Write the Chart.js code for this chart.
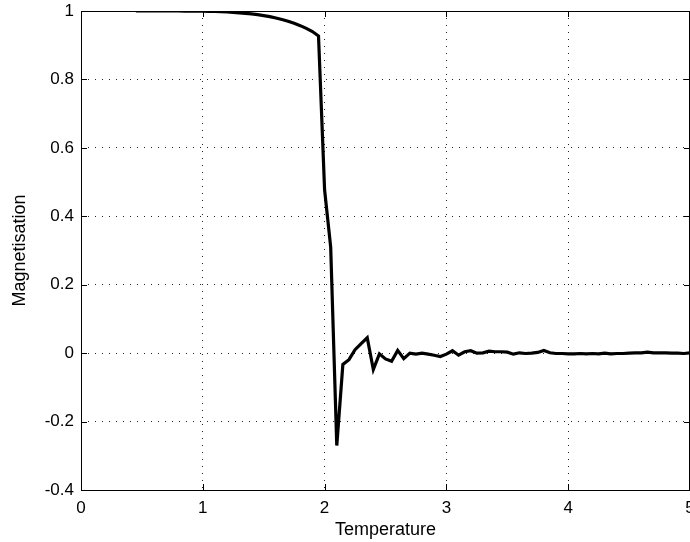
<!DOCTYPE html>
<html>
<head>
<meta charset="utf-8">
<script src="https://cdn.jsdelivr.net/npm/chart.js@4.4.1/dist/chart.umd.min.js"></script>
<style>
  html, body { margin: 0; padding: 0; background: #fff; }
  #wrap { position: relative; width: 690px; height: 542px; }
</style>
</head>
<body>
<div id="wrap"><canvas id="c"></canvas></div>
<script>
// ---- data ----
const temperature = [
  0.45, 0.50, 0.55, 0.60, 0.65, 0.70, 0.75, 0.80, 0.85, 0.90, 0.95,
  1.00, 1.05, 1.10, 1.15, 1.20, 1.25, 1.30, 1.35, 1.40, 1.45,
  1.50, 1.55, 1.60, 1.65, 1.70, 1.75, 1.80, 1.85, 1.90, 1.95,
  2.00, 2.05, 2.10, 2.15, 2.20, 2.25, 2.30, 2.35, 2.40, 2.45,
  2.50, 2.55, 2.60, 2.65, 2.70, 2.75, 2.80, 2.85, 2.90, 2.95,
  3.00, 3.05, 3.10, 3.15, 3.20, 3.25, 3.30, 3.35, 3.40, 3.45,
  3.50, 3.55, 3.60, 3.65, 3.70, 3.75, 3.80, 3.85, 3.90, 3.95,
  4.00, 4.05, 4.10, 4.15, 4.20, 4.25, 4.30, 4.35, 4.40, 4.45,
  4.50, 4.55, 4.60, 4.65, 4.70, 4.75, 4.80, 4.85, 4.90, 4.95,
  5.00
];
const magnetisation = [
  1.0000, 1.0000, 1.0000, 1.0000, 1.0000, 1.0000, 1.0000, 1.0000, 0.9999, 0.9998, 0.9996,
  0.9993, 0.9990, 0.9985, 0.9978, 0.9971, 0.9960, 0.9948, 0.9933, 0.9915, 0.9892,
  0.9866, 0.9834, 0.9796, 0.9751, 0.9700, 0.9640, 0.9572, 0.9492, 0.9400, 0.9270,
  0.477, 0.310, -0.270, -0.033, -0.019, 0.010, 0.028, 0.045, -0.048, -0.002,
  -0.017, -0.024, 0.008, -0.016, 0.000, -0.003, 0.000, -0.003, -0.006, -0.010,
  -0.003, 0.007, -0.006, 0.004, 0.007, 0.000, 0.001, 0.006, 0.004, 0.004,
  0.003, -0.003, 0.001, -0.001, 0.000, 0.002, 0.008, 0.001, -0.001, -0.001,
  -0.002, -0.002, -0.001, -0.002, -0.001, -0.002, 0.000, -0.002, -0.001, -0.001,
  0.000, 0.001, 0.001, 0.003, 0.001, 0.001, 0.001, 0.000, 0.000, -0.001,
  0.001
];
const xTicks = [0, 1, 2, 3, 4, 5];
const yTicks = [-0.4, -0.2, 0, 0.2, 0.4, 0.6, 0.8, 1];
const xTitle = 'Temperature';
const yTitle = 'Magnetisation';

const points = temperature.map((t, i) => ({ x: t, y: magnetisation[i] }));

const FONT = '"Liberation Sans", Arial, Helvetica, sans-serif';

const boxPlugin = {
  id: 'boxAndTicks',
  beforeDatasetsDraw(chart) {
    const { ctx, chartArea: a, scales } = chart;
    ctx.save();
    ctx.strokeStyle = '#000';
    ctx.lineWidth = 1;
    ctx.setLineDash([]);
    const L = 6;
    ctx.beginPath();
    xTicks.forEach(v => {
      const px = Math.round(scales.x.getPixelForValue(v)) + 0.5;
      ctx.moveTo(px, a.bottom); ctx.lineTo(px, a.bottom - L);
      ctx.moveTo(px, a.top); ctx.lineTo(px, a.top + L);
    });
    yTicks.forEach(v => {
      const py = Math.round(scales.y.getPixelForValue(v)) + 0.5;
      ctx.moveTo(a.left, py); ctx.lineTo(a.left + L, py);
      ctx.moveTo(a.right, py); ctx.lineTo(a.right - L, py);
    });
    ctx.stroke();
    ctx.strokeRect(Math.round(a.left) + 0.5, Math.round(a.top) + 0.5,
                   Math.round(a.right - a.left) - 1, Math.round(a.bottom - a.top));
    ctx.restore();
  }
};

new Chart(document.getElementById('c'), {
  type: 'line',
  data: {
    datasets: [{
      data: points,
      borderColor: '#000',
      borderWidth: 3.2,
      pointRadius: 0,
      tension: 0,
      fill: false
    }]
  },
  options: {
    responsive: true,
    maintainAspectRatio: false,
    animation: false,
    events: [],
    layout: { padding: { left: 0, right: 0, top: 11, bottom: 0 } },
    plugins: { legend: { display: false }, tooltip: { enabled: false } },
    scales: {
      x: {
        type: 'linear',
        min: 0, max: 5,
        afterBuildTicks: s => { s.ticks = xTicks.map(v => ({ value: v })); },
        afterFit: s => { s.height = 52; s.paddingLeft = 0; s.paddingRight = 0; },
        ticks: {
          color: '#000',
          font: { family: FONT, size: 17 },
          padding: 8,
          maxRotation: 0,
          autoSkip: false,
          callback: v => String(v)
        },
        grid: {
          color: (c) => (c.tick && (c.tick.value === 0 || c.tick.value === 5)) ? 'rgba(0,0,0,0)' : '#222',
          lineWidth: 1,
          drawTicks: false
        },
        border: { display: false, dash: [1, 6] },
        title: {
          display: true,
          text: xTitle,
          color: '#000',
          font: { family: FONT, size: 18 },
          padding: { top: 0, bottom: 1 }
        }
      },
      y: {
        type: 'linear',
        min: -0.4, max: 1,
        afterBuildTicks: s => { s.ticks = yTicks.map(v => ({ value: v })); },
        afterFit: s => { s.width = 81; s.paddingTop = 0; s.paddingBottom = 0; },
        ticks: {
          color: '#000',
          font: { family: FONT, size: 17 },
          padding: 7,
          autoSkip: false,
          callback: v => String(Math.round(v * 10) / 10)
        },
        grid: {
          color: (c) => (c.tick && (Math.abs(c.tick.value + 0.4) < 1e-9 || Math.abs(c.tick.value - 1) < 1e-9)) ? 'rgba(0,0,0,0)' : '#222',
          lineWidth: 1,
          drawTicks: false
        },
        border: { display: false, dash: [1, 6] },
        title: {
          display: true,
          text: yTitle,
          color: '#000',
          font: { family: FONT, size: 18 },
          padding: { top: 9, bottom: 0 }
        }
      }
    }
  },
  plugins: [boxPlugin]
});
</script>
</body>
</html>
